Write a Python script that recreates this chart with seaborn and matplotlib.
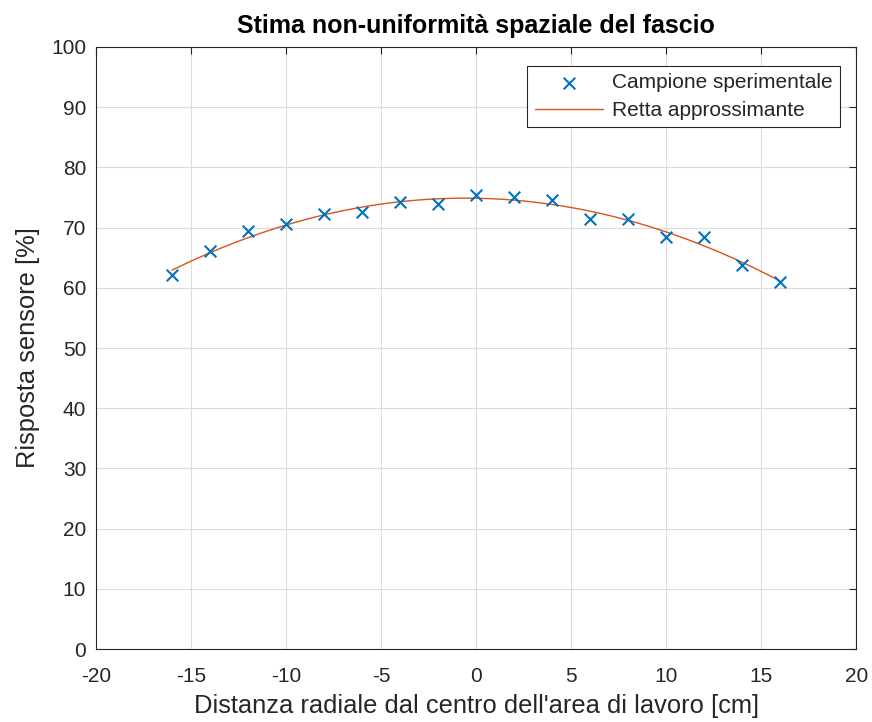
import numpy as np
import pandas as pd
import matplotlib
matplotlib.use("Agg")
import matplotlib.pyplot as plt
import seaborn as sns

distanza = [-16, -14, -12, -10, -8, -6, -4, -2, 0, 2, 4, 6, 8, 10, 12, 14, 16]
risposta = [62.1, 66.1, 69.4, 70.6, 72.3, 72.6, 74.2, 73.9, 75.4, 75.0, 74.6, 71.5, 71.5, 68.4, 68.4, 63.8, 61.0]
xticks = [-20, -15, -10, -5, 0, 5, 10, 15, 20]
yticks = [0, 10, 20, 30, 40, 50, 60, 70, 80, 90, 100]

sns.set_theme(style="whitegrid")
plt.rcParams['font.family'] = ['Liberation Sans', 'DejaVu Sans']
plt.rcParams['axes.unicode_minus'] = False

df = pd.DataFrame({"x": distanza, "y": risposta})
coef = np.polyfit(df["x"], df["y"], 2)
xf = np.linspace(min(distanza), max(distanza), 200)
fit = pd.DataFrame({"x": xf, "y": np.polyval(coef, xf)})

fig = plt.figure(figsize=(8.72, 7.22), dpi=100)
ax = fig.add_axes([0.110, 0.101, 0.872, 0.834])

sns.scatterplot(data=df, x="x", y="y", marker="x", color="#0072BD", s=70,
                linewidth=1.5, ax=ax, label="Campione sperimentale", zorder=3)
sns.lineplot(data=fit, x="x", y="y", color="#D95319", linewidth=1.0, ax=ax,
             label="Retta approssimante", zorder=2)

ax.set_xlim(-20, 20)
ax.set_ylim(0, 100)
ax.set_xticks(xticks)
ax.set_yticks(yticks)
ax.tick_params(axis='both', labelsize=15, direction='in', length=5, width=0.8,
               color='#262626', labelcolor='#262626', top=True, right=True)
ax.tick_params(axis='x', pad=13)
ax.tick_params(axis='y', pad=7)
ax.grid(True, color='#dcdcdc', linewidth=0.8)
for s in ax.spines.values():
    s.set_color('#262626')
    s.set_linewidth(0.8)
    s.set_visible(True)
ax.set_facecolor('white')

ax.set_xlabel("Distanza radiale dal centro dell'area di lavoro [cm]", fontsize=18.4, color='#262626', labelpad=6)
ax.set_ylabel("Risposta sensore [%]", fontsize=18.4, color='#262626', labelpad=8)
ax.set_title("Stima non-uniformità spaziale del fascio", fontsize=18, fontweight='bold', color='black', pad=10)

leg = ax.legend(loc='upper right', fontsize=15, frameon=True, fancybox=False,
                edgecolor='#262626', framealpha=1, borderpad=0.35, labelspacing=0.4,
                handlelength=3.3, handletextpad=0.4, borderaxespad=0,
                bbox_to_anchor=(0.978, 0.968))
leg.get_frame().set_linewidth(0.8)

fig.savefig("out.png", dpi=100, facecolor='white')
